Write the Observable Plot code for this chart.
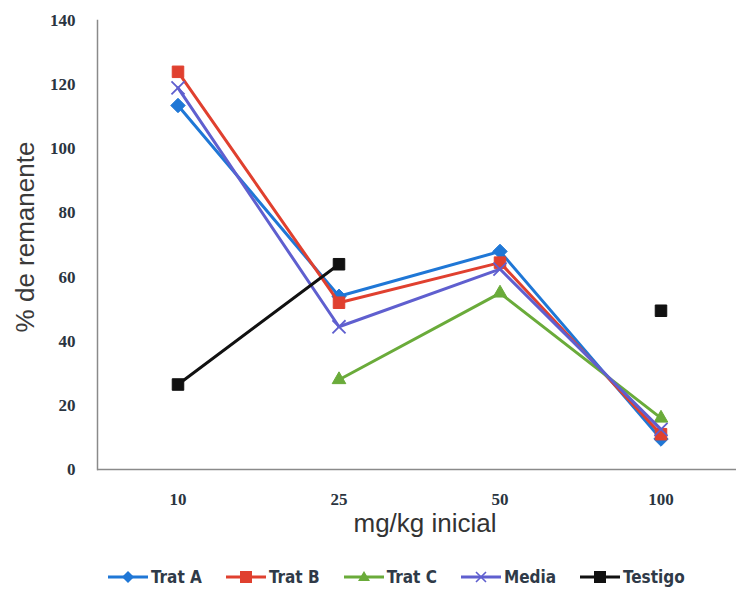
<!DOCTYPE html>
<html><head><meta charset="utf-8">
<script src="https://cdn.jsdelivr.net/npm/d3@7"></script>
<script src="https://cdn.jsdelivr.net/npm/@observablehq/plot@0.6"></script>
<style>
body{margin:0;background:#fff;font-family:"Liberation Sans",Arial,sans-serif;}
#wrap{position:relative;width:736px;}
#ylab{position:absolute;left:25px;top:237px;transform:translate(-50%,-50%) rotate(-90deg);font-size:26px;color:#3a3a3a;white-space:nowrap;}
#legend{display:flex;justify-content:flex-start;margin-left:108px;margin-top:17px;font-family:"Liberation Sans Narrow","DejaVu Sans Condensed",Arial,sans-serif;font-weight:bold;font-size:17px;color:#2f3a48;}
.item{display:flex;align-items:center;margin-right:24px;}
.item svg{margin-right:3px;}
</style></head>
<body><div id="wrap"><div id="chart"></div><div id="ylab">% de remanente</div><div id="legend"></div></div>
<script>
const categories = ["10","25","50","100"];
const seriesNames = ["Trat A","Trat B","Trat C","Media","Testigo"];
const tratA = [113.5, 54, 68, 9.5];
const tratB = [124, 52, 64.5, 11];
const tratC = [null, 28, 55, 16];
const media = [119, 44.5, 62.5, 12.5];
const testigo = [26.5, 64, null, 49.5];
const yTicks = [0,20,40,60,80,100,120,140];
const colors = ["#1f77d6","#e0402f","#6aab3a","#5f5fcf","#111111"];
const symbols = ["diamond2","square","triangle2","times","square"];

const values = [tratA, tratB, tratC, media, testigo];
const data = [];
seriesNames.forEach((s, i) => categories.forEach((c, j) => {
  data.push({series: s, cat: c, value: values[i][j] == null ? NaN : values[i][j]});
}));

const marks = [
  Plot.ruleY([0], {stroke: "#8a8a8a", strokeWidth: 1.5}),
  Plot.frame({anchor: "left", stroke: "#8a8a8a", strokeWidth: 1.5})
];
seriesNames.forEach((s, i) => {
  const d = data.filter(r => r.series === s);
  marks.push(Plot.line(d, {x: "cat", y: "value", stroke: colors[i], strokeWidth: 3}));
  const sym = symbols[i];
  const filled = sym !== "times";
  marks.push(Plot.dot(d.filter(r => !isNaN(r.value)), {
    x: "cat", y: "value", symbol: () => sym, r: sym === "times" ? 6 : 6.5,
    fill: filled ? colors[i] : "none", stroke: colors[i], strokeWidth: filled ? 1 : 1.8
  }));
});
marks.push(Plot.text(["mg/kg inicial"], {frameAnchor: "bottom", text: d => d, dy: 62, dx: 8, fontSize: 26, fill: "#333"}));

const tickFont = "Liberation Serif, DejaVu Serif, serif";
const chart = Plot.plot({
  width: 736, height: 550,
  marginLeft: 97, marginRight: 0, marginTop: 20, marginBottom: 81,
  style: {fontFamily: "Liberation Sans, Arial, sans-serif", background: "#fff"},
  x: {type: "band", domain: categories, range: [97, 741], padding: 0, label: null},
  y: {domain: [0, 140], label: null},
  symbol: {type: "identity"},
  marks: [
    Plot.axisX({tickSize: 0, tickPadding: 23, fontSize: 17, fontWeight: "bold", fontFamily: tickFont, fill: "#2a3440", label: null}),
    Plot.axisY({ticks: yTicks, tickSize: 0, tickPadding: 22, fontSize: 17, fontWeight: "bold", fontFamily: tickFont, fill: "#2a3440", label: null}),
    ...marks
  ]
});
document.getElementById("chart").appendChild(chart);

const legend = document.getElementById("legend");
seriesNames.forEach((s, i) => {
  const item = document.createElement("div");
  item.className = "item";
  const sym = symbols[i];
  let m;
  if (sym === "diamond2") m = `<path d="M20,2 L26,8 L20,14 L14,8Z" fill="${colors[i]}"/>`;
  else if (sym === "square") m = `<rect x="14" y="2" width="12" height="12" fill="${colors[i]}"/>`;
  else if (sym === "triangle2") m = `<path d="M20,2 L26,12 L14,12Z" fill="${colors[i]}"/>`;
  else m = `<path d="M15,3 L25,13 M25,3 L15,13" stroke="${colors[i]}" stroke-width="1.6"/>`;
  item.innerHTML = `<svg width="40" height="16"><line x1="0" y1="8" x2="40" y2="8" stroke="${colors[i]}" stroke-width="3"/>${m}</svg><span>${s}</span>`;
  legend.appendChild(item);
});
</script></body></html>
